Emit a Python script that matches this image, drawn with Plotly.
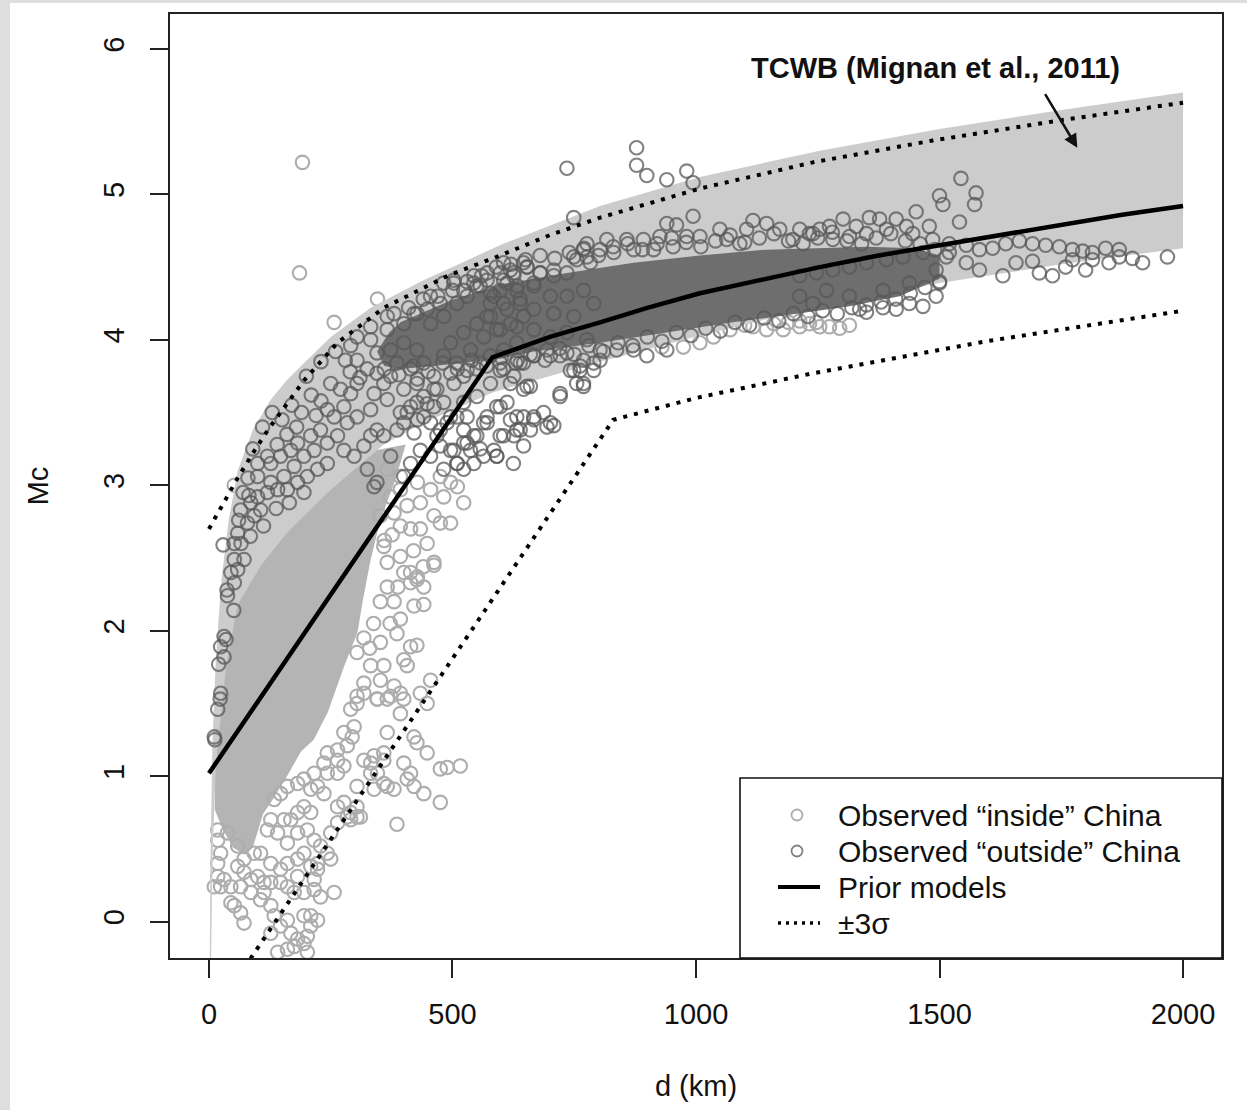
import plotly.graph_objects as go

# ---------------- data ----------------
# Prior model (solid black)
prior_d = [0, 582, 650, 700, 803, 900, 1008, 1130, 1254, 1375, 1500, 1625, 1750, 1875, 2000]
prior_mc = [1.02, 3.88, 3.96, 4.02, 4.12, 4.22, 4.32, 4.41, 4.50, 4.58, 4.65, 4.72, 4.79, 4.86, 4.92]

# +3 sigma (dotted)
upper_d = [0, 30, 59, 90, 121, 160, 195, 264, 359, 490, 598, 700, 803, 1008, 1240, 1486, 1750, 2000]
upper_mc = [2.70, 2.88, 3.05, 3.22, 3.38, 3.56, 3.72, 3.98, 4.22, 4.44, 4.58, 4.72, 4.84, 5.04, 5.22, 5.37, 5.51, 5.63]

# -3 sigma (dotted)
lower_d = [60, 830, 1000, 1240, 1596, 2000]
lower_mc = [-0.38, 3.45, 3.60, 3.77, 3.99, 4.20]

# TCWB band (Mignan et al., 2011)
tcwb_up_d = [1, 3, 7, 14, 25, 40, 59, 90, 127, 162, 250, 332, 434, 604, 803, 1008, 1254, 1500, 1750, 2000]
tcwb_up_mc = [-0.6, 0.4, 1.2, 1.8, 2.33, 2.75, 3.10, 3.38, 3.59, 3.73, 4.02, 4.22, 4.40, 4.66, 4.92, 5.12, 5.30, 5.45, 5.58, 5.70]
tcwb_lo_d = [3, 7, 14, 35, 59, 107, 162, 250, 359, 434, 584, 803, 1008, 1254, 1500, 1750, 2000]
tcwb_lo_mc = [-0.6, 0.4, 1.07, 1.75, 2.18, 2.45, 2.68, 2.97, 3.28, 3.42, 3.64, 3.85, 4.03, 4.23, 4.39, 4.52, 4.63]

# outline of the solid (fully overlapped) mass of "inside" circles
inside_mass_d = [12, 12, 29, 49, 74, 90, 111, 131, 162, 189, 215, 244, 277, 305, 316, 332, 352, 383, 404, 250, 107, 49, 20]
inside_mass_mc = [1.07, 0.77, 0.63, 0.51, 0.46, 0.51, 0.74, 0.84, 1.01, 1.17, 1.25, 1.44, 1.75, 1.99, 2.21, 2.49, 2.76, 3.04, 3.28, 3.18, 2.69, 2.08, 1.53]

# outline of the solid (fully overlapped) core of "outside" circles
outside_core_d = [345, 370, 393, 496, 598, 735, 872, 1008, 1145, 1254, 1350, 1450, 1500, 1500, 1418, 1315, 1254, 1145, 1076, 940, 803, 667, 598, 462, 393, 360]
outside_core_mc = [3.92, 4.05, 4.12, 4.27, 4.38, 4.46, 4.53, 4.58, 4.62, 4.63, 4.64, 4.63, 4.58, 4.42, 4.30, 4.23, 4.20, 4.15, 4.12, 4.05, 3.98, 3.92, 3.87, 3.82, 3.80, 3.82]

inside_pts = [
    (304,1.85),(332,1.76),(359,1.76),(352,1.66),(318,1.64),(345,1.53),(366,1.53),(304,1.55),(291,1.46),(294,1.27),
    (284,1.21),(264,1.11),(277,1.07),(318,1.11),(339,1.14),(359,1.11),(366,1.30),(332,1.02),(304,0.93),(264,1.02),
    (243,1.02),(223,0.93),(236,0.88),(209,0.91),(182,0.95),(277,0.82),(291,0.75),(311,0.72),(209,0.75),(195,0.79),
    (182,0.75),(168,0.70),(154,0.70),(127,0.70),(120,0.63),(141,0.61),(161,0.54),(182,0.61),(202,0.63),(216,0.56),
    (229,0.52),(195,0.47),(182,0.43),(161,0.40),(147,0.36),(127,0.40),(106,0.47),(93,0.47),(72,0.43),(59,0.38),
    (72,0.34),(86,0.29),(100,0.31),(113,0.27),(127,0.27),(147,0.27),(161,0.24),(175,0.20),(195,0.20),(216,0.22),
    (229,0.17),(257,0.20),(216,0.29),(223,0.36),(209,0.38),(182,0.31),(45,0.24),(24,0.24),(18,0.31),(18,0.40),
    (24,0.47),(18,0.56),(18,0.63),(38,0.61),(59,0.52),(52,0.11),(45,0.13),(65,0.06),(72,-0.01),(127,0.11),
    (134,0.04),(147,-0.03),(161,0.01),(168,-0.08),(182,-0.12),(195,-0.15),(202,-0.10),(209,-0.03),(195,0.04),(209,0.04),
    (175,-0.17),(161,-0.19),(141,-0.21),(223,0.01),(202,-0.21),(127,-0.08),(113,0.20),(106,0.15),(86,0.20),(65,0.24),
    (31,0.29),(11,0.24),(134,0.84),(147,0.88),(161,0.93),(195,0.98),(216,1.02),(236,1.09),(243,1.16),(264,1.18),
    (277,1.30),(298,1.34),(359,0.95),(304,0.79),(291,0.70),(250,0.61),(243,0.47),(223,0.40),(250,0.43),
    (462,2.45),(427,2.35),(414,2.33),(441,2.18),(421,2.17),(393,2.08),(386,1.98),(414,1.89),(427,1.90),(400,1.80),
    (407,1.76),(380,1.62),(393,1.57),(400,1.53),(373,1.55),(346,1.53),(318,1.57),(304,1.50),(434,1.57),(448,1.50),
    (455,1.66),(393,1.43),(421,1.27),(427,1.23),(448,1.16),(400,1.09),(414,1.02),(407,0.98),(366,0.93),(380,0.91),
    (441,0.88),(421,0.93),(332,1.09),(346,1.02),(475,0.82),(475,1.05),(489,1.06),(516,1.07),(386,0.67),(304,0.72),
    (284,0.72),(264,0.79),(264,0.68),(359,1.16),(339,0.91),(400,2.40),(366,2.30),(352,2.20),(380,2.20),(441,2.30),
    (366,2.47),(393,2.51),(414,2.40),(428,2.37),(462,2.47),(448,2.60),(475,2.74),(496,2.74),(462,2.79),(434,2.70),
    (414,2.70),(393,2.72),(380,2.81),(407,2.86),(434,2.88),(455,2.97),(482,2.92),(510,2.99),(523,2.88),(496,3.02),
    (475,3.06),(428,3.02),(393,2.97),(373,2.92),(352,2.79),(359,2.58),(366,3.11),(393,3.06),
    (318,1.95),(338,2.05),(372,2.05),(330,1.88),(352,1.92),(388,2.30),(360,2.62),(376,2.66),(420,2.55),(440,2.44),
    (257,4.12),(346,4.28),(186,4.46),(192,5.22),(52,3.00),
    (930,3.95),(974,3.95),(1008,3.98),(1036,4.02),(1070,4.07),(1100,4.10),(1117,4.09),(1145,4.07),(1160,4.11),(1179,4.07),
    (1190,4.12),(1213,4.09),(1213,4.13),(1233,4.11),(1247,4.12),(1254,4.09),(1274,4.09),(1295,4.08),(1315,4.10),
]

outside_pts = [
    # near the left axis
    (11,1.27),(12,1.25),(18,1.46),(23,1.53),(24,1.57),(20,1.77),(31,1.82),(24,1.89),(31,1.96),(35,1.94),
    (51,2.14),(38,2.24),(37,2.28),(45,2.40),(52,2.49),(29,2.59),(61,2.76),(82,2.93),
    # arc and cluster 50-650 km
    (52,2.33),(59,2.42),(72,2.49),(52,2.60),(59,2.67),(79,2.74),(93,2.79),(106,2.83),(86,2.88),(65,2.83),
    (100,2.92),(120,2.95),(141,2.97),(127,3.02),(100,3.06),(127,3.15),(147,3.20),(168,3.24),(182,3.29),(209,3.34),
    (195,3.20),(175,3.13),(154,3.06),(161,2.97),(182,3.02),(202,3.06),(223,3.11),(243,3.15),(216,3.24),(243,3.29),
    (229,3.38),(264,3.34),(284,3.43),(277,3.24),(298,3.20),(257,3.47),(243,3.52),(277,3.54),(304,3.47),(332,3.52),
    (339,3.63),(366,3.59),(359,3.70),(373,3.75),(400,3.66),(414,3.54),(393,3.50),(386,3.38),(345,3.38),(332,3.34),
    (318,3.27),(359,3.34),(400,3.43),(421,3.36),(441,3.47),(462,3.54),(441,3.61),(468,3.66),(482,3.57),(509,3.47),
    (523,3.38),(537,3.24),(564,3.20),(585,3.24),(605,3.34),(632,3.38),(646,3.47),(591,3.54),(571,3.43),(550,3.61),
    (523,3.57),(489,3.43),(468,3.34),(496,3.24),(509,3.15),(523,3.11),(482,3.11),(455,3.20),(434,3.24),(414,3.15),
    (400,3.06),(373,3.20),(345,3.02),(325,3.11),(339,2.99),
    (150,3.45),(170,3.55),(190,3.50),(210,3.62),(230,3.58),(250,3.70),(270,3.66),(290,3.78),(310,3.74),(200,3.75),
    (230,3.85),(260,3.92),(280,3.86),(220,3.48),(180,3.40),(160,3.35),(140,3.28),(120,3.20),(100,3.15),(80,3.05),
    (70,2.95),(90,3.25),(110,3.40),(130,3.50),(66,2.60),(85,2.65),(112,2.72),(138,2.84),(165,2.88),(195,2.95),
    # upper part of cluster
    (304,4.02),(332,4.00),(345,3.91),(373,3.93),(400,3.98),(427,3.93),(386,3.84),(414,3.80),(441,3.84),(462,3.75),
    (427,3.70),(400,4.11),(427,4.18),(455,4.11),(482,4.16),(509,4.25),(523,4.34),(550,4.37),(578,4.32),(605,4.41),
    (619,4.48),(646,4.53),(632,4.34),(605,4.25),(578,4.16),(550,4.11),(523,4.05),(496,3.98),(482,3.89),(509,3.84),
    (537,3.93),(564,4.02),(591,4.07),(619,4.11),(646,4.16),(605,3.93),(578,3.89),(550,3.80),(523,3.75),(503,3.70),
    (632,3.98),(646,3.84),(605,3.80),(578,3.70),(619,3.70),(646,3.66),(366,4.16),(332,4.09),(291,3.96),(304,3.86),
    (325,3.80),(345,3.77),(366,4.07),(455,4.30),(482,4.39),(503,4.39),(544,4.44),(571,4.46),(605,4.53),(578,4.25),
    (639,4.28),(291,3.63),(304,3.70),(407,3.50),(427,3.57),(455,3.43),(475,3.27),(523,3.29),(550,3.34),(646,3.27),
    (625,3.15),
    # 550-800 km
    (769,4.62),(755,4.55),(783,4.53),(735,4.46),(708,4.44),(680,4.46),(653,4.50),(626,4.46),(612,4.39),(667,4.37),
    (701,4.30),(735,4.30),(769,4.34),(790,4.25),(749,4.16),(708,4.18),(667,4.21),(639,4.25),(612,4.21),(585,4.30),
    (557,4.37),(571,4.16),(598,4.07),(632,4.09),(667,4.07),(701,4.02),(735,4.05),(776,4.00),(803,3.93),(790,3.84),
    (762,3.82),(742,3.79),(721,3.89),(694,3.93),(667,3.89),(639,3.84),(626,3.75),(598,3.79),(660,3.68),(721,3.61),
    (755,3.70),(769,3.68),(612,3.57),(632,3.47),(667,3.45),(701,3.43),(660,3.38),(626,3.34),(598,3.34),(571,3.47),
    (591,3.20),(557,3.25),(544,3.15),(510,3.15),(530,3.29),(687,3.50),(708,3.41),
    # 400-1250 km
    (878,5.32),(878,5.20),(899,5.13),(940,5.10),(981,5.16),(994,5.08),(735,5.18),(749,4.84),(940,4.80),(960,4.79),
    (994,4.85),(1117,4.82),(1145,4.80),(1104,4.76),(1172,4.76),(1213,4.76),(1240,4.73),(1049,4.76),(1008,4.71),(981,4.71),
    (926,4.71),(892,4.69),(858,4.69),(817,4.69),(776,4.66),(749,4.57),(776,4.57),(803,4.62),(831,4.60),(872,4.62),
    (913,4.62),(953,4.64),(1063,4.69),(1090,4.66),(1199,4.69),(708,4.48),(680,4.46),(653,4.50),(626,4.44),(598,4.46),
    (571,4.41),(544,4.39),(503,4.41),(530,4.30),(475,4.25),(448,4.21),(421,4.18),(598,4.34),(633,4.37),(667,4.39),
    (428,3.73),(462,3.66),(496,3.77),(530,3.79),(557,3.84),(598,3.84),(633,3.86),(667,3.89),(701,3.89),(735,3.91),
    (769,3.86),(803,3.86),(837,3.93),(872,3.93),(899,3.89),(940,3.93),(749,3.79),(769,3.70),(721,3.63),(762,3.79),
    (790,3.79),(653,3.68),(598,3.54),(619,3.45),(667,3.47),(694,3.40),(639,3.38),(564,3.43),(530,3.47),(496,3.47),
    (448,3.56),(475,3.38),(503,3.24),(544,3.34),(591,3.20),(428,3.45),
    # upper edge of the dense core
    (380,4.18),(410,4.22),(440,4.28),(470,4.30),(500,4.34),(530,4.40),(560,4.44),(590,4.50),(620,4.52),(650,4.55),
    (680,4.58),(710,4.56),(740,4.60),(770,4.63),(800,4.58),(830,4.64),(860,4.66),(890,4.62),(920,4.66),(950,4.70),
    (980,4.67),(1010,4.64),(1040,4.68),(1070,4.72),(1100,4.67),(1130,4.70),(1160,4.73),(1190,4.68),(1220,4.66),(1250,4.70),
    (1280,4.74),(1310,4.68),(1340,4.66),(1370,4.70),(1400,4.73),(1430,4.68),(1460,4.66),(1490,4.62),(1520,4.60),
    # lower edge of the dense core
    (360,3.80),(390,3.76),(420,3.82),(450,3.78),(480,3.84),(510,3.80),(540,3.86),(570,3.82),(600,3.88),(630,3.84),
    (660,3.90),(690,3.86),(720,3.94),(750,3.90),(780,3.96),(810,3.92),(840,3.98),(870,3.96),(900,4.02),(930,3.99),
    (960,4.05),(990,4.03),(1020,4.08),(1050,4.06),(1080,4.12),(1110,4.10),(1140,4.15),(1170,4.13),(1200,4.18),(1230,4.16),
    (1260,4.20),(1290,4.18),(1320,4.22),(1350,4.24),(1380,4.26),(1410,4.28),(1440,4.32),(1470,4.36),(1500,4.40),
    # 1200-2000 km
    (1544,5.11),(1500,4.99),(1507,4.93),(1575,5.01),(1572,4.93),(1452,4.88),(1479,4.78),(1541,4.81),(1356,4.84),(1377,4.83),
    (1411,4.83),(1302,4.83),(1274,4.78),(1254,4.76),(1233,4.73),(1329,4.78),(1432,4.78),(1391,4.76),(1350,4.73),(1315,4.71),
    (1281,4.69),(1445,4.73),(1486,4.69),(1520,4.66),(1555,4.65),(1582,4.62),(1609,4.63),(1636,4.66),(1664,4.68),(1691,4.66),
    (1718,4.65),(1746,4.64),(1773,4.62),(1794,4.61),(1814,4.60),(1841,4.63),(1869,4.62),(1896,4.56),(1917,4.53),(1968,4.57),
    (1555,4.53),(1582,4.48),(1630,4.44),(1657,4.53),(1691,4.54),(1705,4.46),(1732,4.44),(1759,4.50),(1773,4.55),(1800,4.48),
    (1814,4.55),(1848,4.53),(1869,4.57),(1493,4.48),(1500,4.39),(1493,4.30),(1466,4.23),(1438,4.25),(1411,4.21),(1384,4.22),
    (1350,4.19),(1336,4.21),(1514,4.57),(1466,4.60),(1425,4.57),(1391,4.55),(1350,4.53),(1315,4.50),(1281,4.48),(1247,4.46),
    (1213,4.44),(1268,4.34),(1315,4.30),(1384,4.34),(1438,4.39),(1213,4.30),(1240,4.25),
]

x_ticks = [0, 500, 1000, 1500, 2000]
y_ticks = [0, 1, 2, 3, 4, 5, 6]
legend_labels = ["Observed \u201cinside\u201d China", "Observed \u201coutside\u201d China", "Prior models", "\u00b13\u03c3"]

# ---------------- styling ----------------
INSIDE_COL = "#adadad"
OUTSIDE_COL = "rgba(88,88,88,0.75)"
BAND_COL = "#cccccc"
FONT = "Liberation Sans, Arial, Helvetica, sans-serif"

fig = go.Figure()

fig.add_trace(go.Scatter(x=inside_mass_d, y=inside_mass_mc, mode="lines", fill="toself",
                         fillcolor="#b4b4b4", line=dict(width=0), hoverinfo="skip", showlegend=False))
fig.add_trace(go.Scatter(x=[p[0] for p in inside_pts], y=[p[1] for p in inside_pts], mode="markers",
                         marker=dict(symbol="circle-open", size=13.5, color=INSIDE_COL, line=dict(width=2.1)),
                         name=legend_labels[0], showlegend=False))
fig.add_trace(go.Scatter(x=tcwb_up_d + tcwb_lo_d[::-1], y=tcwb_up_mc + tcwb_lo_mc[::-1], mode="lines",
                         fill="toself", fillcolor=BAND_COL, line=dict(width=0), hoverinfo="skip", showlegend=False))
fig.add_trace(go.Scatter(x=outside_core_d, y=outside_core_mc, mode="lines", fill="toself",
                         fillcolor="#6e6e6e", line=dict(width=0), hoverinfo="skip", showlegend=False))
fig.add_trace(go.Scatter(x=[p[0] for p in outside_pts], y=[p[1] for p in outside_pts], mode="markers",
                         marker=dict(symbol="circle-open", size=13.5, color=OUTSIDE_COL, line=dict(width=2.1)),
                         name=legend_labels[1], showlegend=False))
fig.add_trace(go.Scatter(x=prior_d, y=prior_mc, mode="lines", line=dict(color="black", width=4.5),
                         name=legend_labels[2], showlegend=False))
fig.add_trace(go.Scatter(x=upper_d, y=upper_mc, mode="lines", line=dict(color="black", width=4, dash="4px,7px"),
                         name=legend_labels[3], showlegend=False))
fig.add_trace(go.Scatter(x=lower_d, y=lower_mc, mode="lines", line=dict(color="black", width=4, dash="4px,7px"),
                         showlegend=False))

# ---------------- layout ----------------
L, R, T, B, W, H = 170, 25, 14, 152, 1247, 1110
pw, ph = W - L - R, H - T - B

def px(xp):
    return (xp - L) / pw

def py(yp):
    return (H - B - yp) / ph

shapes = [
    dict(type="rect", xref="paper", yref="paper", x0=px(0), x1=px(10), y0=py(H), y1=py(0),
         fillcolor="#dedede", line=dict(width=0), layer="below"),
    dict(type="rect", xref="paper", yref="paper", x0=px(0), x1=px(W), y0=py(3), y1=py(0),
         fillcolor="#dedede", line=dict(width=0), layer="below"),
    dict(type="rect", xref="paper", yref="paper", x0=px(740), x1=1.0, y0=0, y1=py(778),
         fillcolor="white", line=dict(color="#111", width=1.6), layer="above"),
]
annotations = []
rows = [815, 851, 887, 923]
r = 5.5
shapes.append(dict(type="circle", xref="paper", yref="paper", x0=px(797 - r), x1=px(797 + r),
                   y0=py(rows[0] + r), y1=py(rows[0] - r), line=dict(color=INSIDE_COL, width=1.8), layer="above"))
shapes.append(dict(type="circle", xref="paper", yref="paper", x0=px(797 - r), x1=px(797 + r),
                   y0=py(rows[1] + r), y1=py(rows[1] - r), line=dict(color="#808080", width=1.8), layer="above"))
shapes.append(dict(type="line", xref="paper", yref="paper", x0=px(778), x1=px(820), y0=py(rows[2]), y1=py(rows[2]),
                   line=dict(color="black", width=4), layer="above"))
shapes.append(dict(type="line", xref="paper", yref="paper", x0=px(778), x1=px(820), y0=py(rows[3]), y1=py(rows[3]),
                   line=dict(color="black", width=3.5, dash="3px,5px"), layer="above"))
for lab, ry in zip(legend_labels, rows):
    annotations.append(dict(xref="paper", yref="paper", x=px(836), y=py(ry), text=lab, showarrow=False,
                            xanchor="left", yanchor="middle", font=dict(size=30, color="#111", family=FONT)))

annotations.append(dict(xref="x", yref="y", x=1492, y=5.87, text="<b>TCWB (Mignan et al., 2011)</b>",
                        showarrow=False, font=dict(size=29, color="#111", family=FONT)))
annotations.append(dict(xref="x", yref="y", x=1783, y=5.32, axref="x", ayref="y", ax=1715, ay=5.70,
                        text="", showarrow=True, arrowhead=2, arrowsize=1.1, arrowwidth=2.5, arrowcolor="#111"))

axis_common = dict(showline=True, mirror=True, linecolor="#222", linewidth=1.6, ticks="outside", ticklen=18,
                   tickwidth=1.6, tickcolor="#222", showgrid=False, zeroline=False, automargin=False,
                   tickfont=dict(size=29, color="#111", family=FONT))

fig.update_layout(
    width=W, height=H, margin=dict(l=L, r=R, t=T, b=B, pad=0),
    paper_bgcolor="white", plot_bgcolor="white", showlegend=False,
    font=dict(family=FONT, size=29, color="#111"),
    xaxis=dict(range=[-80, 2080], tickvals=x_ticks, ticklabelstandoff=11,
               title=dict(text="d (km)", standoff=47, font=dict(size=29, family=FONT, color="#111")),
               **axis_common),
    yaxis=dict(range=[-0.25, 6.24], tickvals=y_ticks, tickangle=-90, ticklabelstandoff=15,
               title=dict(text="Mc", standoff=40, font=dict(size=29, family=FONT, color="#111")),
               **axis_common),
    shapes=shapes, annotations=annotations,
)

fig.write_html("out.html", config={"displayModeBar": False},
               post_script="document.body.style.margin='0';document.body.style.overflow='hidden';")
